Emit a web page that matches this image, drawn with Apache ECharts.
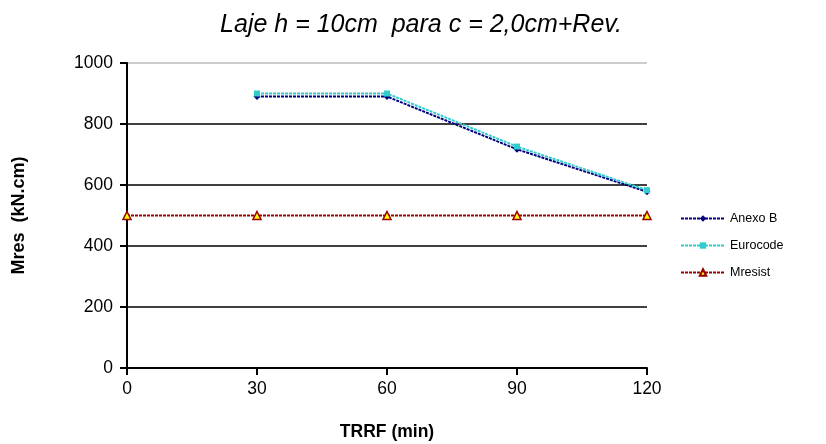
<!DOCTYPE html>
<html>
<head>
<meta charset="utf-8">
<script src="https://cdn.jsdelivr.net/npm/echarts@6/dist/echarts.min.js"></script>
<style>
  html, body { margin: 0; padding: 0; background: #fff; }
  #chart { width: 826px; height: 444px; }
</style>
</head>
<body>
<div id="chart"></div>
<script>
// Fire resistance time (min) and resisting moments (kN.cm)
const times = [30, 60, 90, 120];
const anexoB = [890, 890, 717, 578];
const eurocode = [900, 900, 726, 583];
const mresistTimes = [0, 30, 60, 90, 120];
const mresist = [500, 500, 500, 500, 500];
const xTicks = [0, 30, 60, 90, 120];
const yTicks = [0, 200, 400, 600, 800, 1000];

const pairs = (xs, ys) => xs.map((x, i) => [x, ys[i]]);
const font = 'Liberation Sans, Arial, sans-serif';

const chart = echarts.init(document.getElementById('chart'));
chart.setOption({
  animation: false,
  backgroundColor: '#fff',
  title: {
    text: 'Laje h = 10cm  para c = 2,0cm+Rev.',
    left: 416, top: 8, textAlign: 'center',
    textStyle: { fontFamily: font, fontSize: 25, fontStyle: 'italic', fontWeight: 'normal', color: '#000' }
  },
  legend: {
    orient: 'vertical', left: 675, top: 207,
    itemWidth: 44, itemHeight: 8, itemGap: 14,
    textStyle: { fontFamily: font, fontSize: 12.5, color: '#000' },
    data: ['Anexo B', 'Eurocode', 'Mresist']
  },
  grid: { left: 127, right: 179, top: 63, bottom: 76, outerBoundsMode: 'none' },
  xAxis: {
    type: 'value', min: xTicks[0], max: xTicks[xTicks.length - 1], interval: 30,
    name: 'TRRF (min)', nameLocation: 'middle', nameGap: 55,
    nameTextStyle: { fontFamily: font, fontSize: 17.5, fontWeight: 'bold', color: '#000' },
    axisLine: { lineStyle: { color: '#000', width: 2 } },
    axisTick: { show: true, length: 7, lineStyle: { color: '#000', width: 2 } },
    axisLabel: { fontFamily: font, fontSize: 17.5, color: '#000', margin: 12 },
    splitLine: { show: false }
  },
  yAxis: {
    type: 'value', min: yTicks[0], max: yTicks[yTicks.length - 1], interval: 200,
    name: 'Mres  (kN.cm)', nameLocation: 'middle', nameGap: 99,
    nameTextStyle: { fontFamily: font, fontSize: 18, fontWeight: 'bold', color: '#000' },
    axisLine: { show: true, lineStyle: { color: '#000', width: 2 } },
    axisTick: { show: true, length: 7, lineStyle: { color: '#000', width: 2 } },
    axisLabel: { fontFamily: font, fontSize: 17.5, color: '#000', margin: 14, formatter: v => String(v) },
    splitLine: {
      show: true,
      lineStyle: { color: ['#000', '#000', '#000', '#000', '#000', '#bbb'], width: 1.5 }
    }
  },
  series: [
    {
      name: 'Anexo B', type: 'line', data: pairs(times, anexoB),
      symbol: 'diamond', symbolSize: 7,
      lineStyle: { color: '#000080', width: 2, type: [3, 1] },
      itemStyle: { color: '#000080' }
    },
    {
      name: 'Eurocode', type: 'line', data: pairs(times, eurocode),
      symbol: 'rect', symbolSize: 6,
      lineStyle: { color: '#33CCCC', width: 2, type: [3, 1] },
      itemStyle: { color: '#33CCCC' }
    },
    {
      name: 'Mresist', type: 'line', data: pairs(mresistTimes, mresist),
      symbol: 'triangle', symbolSize: 8,
      lineStyle: { color: '#990000', width: 2, type: [3, 1] },
      itemStyle: { color: '#FFFF00', borderColor: '#990000', borderWidth: 1.5 }
    }
  ]
});
</script>
</body>
</html>
